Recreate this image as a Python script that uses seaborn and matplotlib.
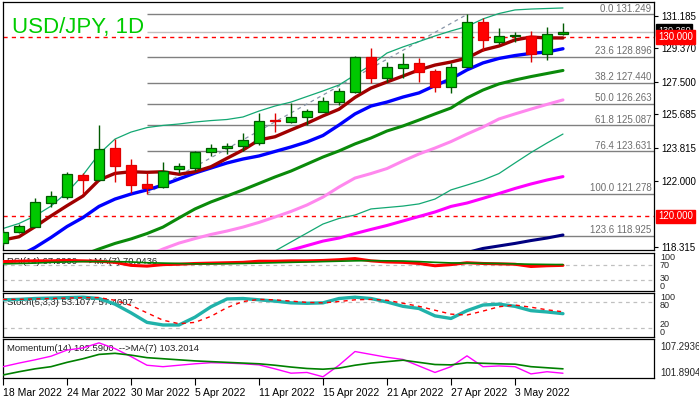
import matplotlib
matplotlib.use("Agg")
import numpy as np
import matplotlib.pyplot as plt
import matplotlib.transforms as mtransforms
import seaborn as sns

nan = np.nan

# ---- values (daily USD/JPY, 18 Mar - 6 May 2022) ----
tick_labels = ["18 Mar 2022", "24 Mar 2022", "30 Mar 2022", "5 Apr 2022", "11 Apr 2022",
               "15 Apr 2022", "21 Apr 2022", "27 Apr 2022", "3 May 2022"]

open_ = [118.54, 119.12, 119.43, 120.77, 121.10, 122.31, 122.01, 123.83, 122.87, 121.81,
         121.63, 122.63, 122.70, 123.57, 123.80, 123.92, 124.10, 125.36, 125.28, 125.56,
         125.83, 126.39, 126.95, 128.86, 127.69, 128.28, 128.53, 128.10, 127.19, 128.34,
         130.81, 129.70, 130.07, 130.07, 129.03, 130.14]
high = [119.25, 119.56, 121.01, 121.42, 122.46, 122.41, 125.09, 124.30, 123.18, 122.42,
        123.03, 123.00, 123.66, 124.03, 124.07, 124.63, 125.78, 125.74, 126.30, 125.98,
        126.64, 127.14, 128.93, 129.36, 128.62, 129.09, 128.84, 128.20, 128.53, 131.249,
        131.03, 130.48, 130.29, 130.33, 130.57, 130.76]
low = [118.40, 119.10, 119.40, 120.54, 120.96, 121.25, 121.98, 121.94, 121.29, 121.278,
       121.60, 122.40, 122.55, 123.39, 123.46, 123.64, 124.00, 124.72, 125.20, 125.09,
       125.80, 126.21, 126.90, 127.42, 127.50, 127.69, 127.47, 126.95, 126.89, 128.30,
       129.23, 129.59, 129.70, 128.58, 128.71, 130.12]
close = [119.15, 119.47, 120.79, 121.12, 122.37, 122.03, 123.74, 122.83, 121.75, 121.60,
         122.53, 122.81, 123.59, 123.81, 123.92, 124.26, 125.30, 125.33, 125.52, 125.87,
         126.43, 126.98, 128.86, 127.73, 128.31, 128.47, 128.06, 127.19, 128.34, 130.81,
         129.83, 130.07, 130.10, 129.03, 130.14, 130.26]

ma_fast = [118.69, 118.87, 119.43, 120.03, 120.60, 121.14, 122.03, 122.40, 122.49, 122.46,
           122.49, 122.35, 122.49, 122.77, 123.24, 123.70, 124.26, 124.44, 124.82, 125.19,
           125.60, 125.97, 126.63, 127.15, 127.49, 127.82, 128.16, 128.43, 128.60, 128.82,
           129.27, 129.49, 129.83, 129.99, 129.94, 129.94]
ma_mid = [117.47, 117.80, 118.27, 118.83, 119.44, 119.94, 120.56, 120.97, 121.25, 121.48,
          121.75, 122.09, 122.42, 122.70, 122.98, 123.20, 123.37, 123.62, 123.87, 124.15,
          124.51, 125.09, 125.71, 126.15, 126.37, 126.65, 126.88, 127.29, 127.66, 128.16,
          128.55, 128.80, 128.96, 129.08, 129.16, 129.34]
ma_20 = [nan, nan, nan, nan, nan, 117.86, 118.19, 118.50, 118.75, 119.05,
         119.41, 119.92, 120.42, 120.81, 121.14, 121.48, 121.84, 122.20, 122.53, 122.92,
         123.31, 123.65, 124.04, 124.37, 124.76, 125.04, 125.37, 125.71, 126.04, 126.60,
         127.04, 127.38, 127.60, 127.79, 127.96, 128.13]
ma_50 = [nan, nan, nan, nan, nan, nan, nan, nan, nan, 117.80,
         118.19, 118.52, 118.77, 119.00, 119.19, 119.41, 119.67, 119.97, 120.28, 120.64,
         121.08, 121.64, 122.14, 122.39, 122.67, 123.09, 123.48, 123.81, 124.17, 124.59,
         124.98, 125.43, 125.71, 125.98, 126.24, 126.49]
ma_100 = [nan] * 17 + [117.86, 118.13, 118.38, 118.63, 118.80, 119.05, 119.28, 119.50, 119.75,
                       120.00, 120.25, 120.56, 120.75, 121.01, 121.28, 121.56, 121.81, 122.03,
                       122.22]
ma_200 = [nan] * 28 + [117.80, 117.99, 118.22, 118.36, 118.50, 118.66, 118.80, 118.97]
bb_upper = [119.33, 119.61, 120.03, 120.58, 121.34, 122.31, 123.48, 124.31, 124.70, 124.95,
            125.07, 125.15, 125.26, 125.34, 125.40, 125.54, 125.87, 126.15, 126.37, 126.68,
            126.99, 127.32, 127.88, 128.43, 129.10, 129.44, 129.74, 130.05, 130.33, 130.58,
            131.00, 131.30, 131.50, 131.55, 131.58, 131.61]
bb_lower = [nan] * 16 + [117.74, 118.08, 118.58, 119.08, 119.58, 119.89, 120.08, 120.42,
                         120.50, 120.58, 120.70, 120.97, 121.48, 121.75, 122.03, 122.39,
                         122.98, 123.56, 124.09, 124.59]

fib_pct = [0.0, 23.6, 38.2, 50.0, 61.8, 76.4, 100.0, 123.6]
fib_price = [131.249, 128.896, 127.440, 126.263, 125.087, 123.631, 121.278, 118.925]
fib_from_bar, fib_to_bar = 9, 29
level_lines = [130.0, 120.0]
main_ticks = [131.185, 129.370, 127.500, 125.685, 123.815, 122.000, 118.315]

rsi = [78, 79, 80, 80, 81, 80, 79, 76, 68, 66, 70, 71, 73, 74, 75, 76, 79, 79, 80, 80,
       81, 83, 86, 80, 77, 76, 73, 67, 70, 75, 73, 72, 71, 65, 67, 67.99]
rsi_ma = [72, 73, 74, 76, 77, 78, 78, 78, 77, 75, 74, 73, 72, 72, 72.5, 73, 74, 75, 76, 77,
          78, 79, 80, 80.5, 80, 79.5, 78, 76, 74.5, 74, 73.5, 73, 72, 71, 70.5, 70.0436]
stoch_k = [85, 86, 88, 89, 90, 91, 88, 75, 55, 33, 27, 27, 45, 69, 87, 88, 85, 82, 78, 77,
           78, 88, 91, 88, 80, 70, 65, 48, 42, 60, 73, 75, 70, 60, 57, 53.1077]
stoch_d = [86, 86, 87, 88, 89, 90, 90, 84, 72, 55, 38, 30, 33, 47, 67, 81, 86, 85, 82, 79,
           78, 81, 85, 86, 84, 77, 70, 61, 52, 50, 59, 69, 73, 68, 62, 57.4007]
momentum = [103.50, 104.0, 104.45, 104.95, 105.8, 106.1, 106.8, 106.0, 104.9, 103.7,
            103.5, 103.7, 103.9, 104.05, 104.0, 103.9, 103.75, 103.2, 102.6, 102.7,
            102.1, 103.7, 105.6, 105.2, 104.8, 104.5, 103.6, 102.7, 103.5, 105.0,
            103.5, 103.6, 103.5, 102.5, 102.8, 102.59]
momentum_ma = [102.35, 102.8, 103.2, 103.5, 104.1, 104.6, 105.2, 105.35, 105.1, 104.75,
               104.6, 104.45, 104.3, 104.2, 104.1, 104.0, 103.9, 103.7, 103.45, 103.25,
               103.15, 103.3, 103.7, 104.0, 104.2, 104.4, 104.1, 103.8, 103.75, 104.05,
               103.97, 103.9, 103.85, 103.5, 103.35, 103.2014]
mom_range = (101.8904, 107.2936)

# ---- layout ----
sns.set_style("white")
plt.rcParams["font.family"] = ["Liberation Sans", "DejaVu Sans"]

W, H = 699, 398
fig = plt.figure(figsize=(W / 100, H / 100), dpi=100)


def px_axes(x0, y0, x1, y1):
    return fig.add_axes([x0 / W, 1 - y1 / H, (x1 - x0) / W, (y1 - y0) / H])


bars = np.arange(len(close))
xlim = (0, 40.69)

ax = px_axes(3, 2, 654, 250)
ax_rsi = px_axes(3, 253.3, 654, 291)
ax_sto = px_axes(3, 293.3, 654, 336.7)
ax_mom = px_axes(3, 339.3, 654, 378.3)
panels = [ax, ax_rsi, ax_sto, ax_mom]

for a in panels:
    a.set_xlim(*xlim)
    a.set_facecolor("white")
    for s in a.spines.values():
        s.set_color("black")
        s.set_linewidth(0.9)
    a.tick_params(axis="x", bottom=False, labelbottom=False)
    a.tick_params(axis="y", left=False, labelleft=False)
    a.set_xlabel("")
    a.set_ylabel("")

# ---- main price panel ----
ax.set_ylim(118.134, 131.942)


def line(a, y, color, lw, z=5, **kw):
    sns.lineplot(x=bars, y=np.asarray(y, dtype=float), ax=a, color=color, linewidth=lw,
                 legend=False, zorder=z, **kw)


line(ax, bb_upper, "#13a873", 0.9, z=2)
line(ax, bb_lower, "#13a873", 0.9, z=2)
line(ax, ma_200, "#000080", 2.2)
line(ax, ma_100, "#ff00ff", 2.2)
line(ax, ma_50, "#ff88ee", 2.2)
line(ax, ma_20, "#0a8a0a", 2.2)
line(ax, ma_mid, "#0000ff", 2.4)
line(ax, ma_fast, "#a00000", 2.4)

# fibonacci retracement
ax.hlines(fib_price, fib_from_bar, xlim[1], color="#808080", linewidth=1, zorder=1)
ax.hlines([close[-1]], fib_from_bar, xlim[1], color="#c0c0c0", linewidth=1, zorder=1)
sns.lineplot(x=[fib_from_bar, fib_to_bar], y=[fib_price[-2], fib_price[0]], ax=ax,
             color="#8896a8", linewidth=0.9, linestyle=(0, (3, 3)), legend=False, zorder=1)
tr = mtransforms.blended_transform_factory(ax.transAxes, ax.transData)
for p, v in zip(fib_pct, fib_price):
    ax.text(0.996, v + 0.03, f"{p:.1f} {v:.3f}", transform=tr, ha="right", va="bottom",
            fontsize=7, color="#6e6e6e", zorder=1)

for lv in level_lines:
    ax.axhline(lv, color="#ff0000", linewidth=1, linestyle=(0, (3, 3)), zorder=1)

# candles
o, h, l, c = (np.asarray(v, dtype=float) for v in (open_, high, low, close))
up = c >= o
for mask, face, edge in ((up, "#00c800", "#005a00"), (~up, "#ff0000", "#e00000")):
    idx = bars[mask]
    ax.vlines(idx, l[mask], h[mask], color=edge, linewidth=1, zorder=6)
    body = np.maximum(np.abs(c[mask] - o[mask]), 0.03)
    ax.bar(idx, body, bottom=np.minimum(o[mask], c[mask]), width=0.66, color=face,
           edgecolor=edge, linewidth=0.9, zorder=7)

ax.yaxis.tick_right()
ax.set_yticks(main_ticks)
ax.set_yticklabels([f"{t:.3f}" for t in main_ticks])
ax.tick_params(axis="y", right=True, labelright=True, length=3, width=0.8, pad=2,
               labelsize=7, colors="black")

# current price tag, mostly covered by the 130.000 level tag
ax.text(1.006, close[-1] + 0.12, f"{close[-1]:.3f}", transform=tr, ha="left", va="center",
        fontsize=6.5, color="white", zorder=10, clip_on=False,
        bbox=dict(boxstyle="square,pad=0.2", fc="black", ec="black"))
for lv in level_lines:
    ax.text(1.006, lv, f"{lv:.3f}", transform=tr, ha="left", va="center", fontsize=7,
            color="white", zorder=11, clip_on=False,
            bbox=dict(boxstyle="square,pad=0.2", fc="#ff0000", ec="#ff0000"))

fig.text(12 / W, 1 - 33 / H, "USD/JPY, 1D", color="#00cc00", fontsize=16, va="baseline")

# ---- RSI ----
ax_rsi.set_ylim(0, 100)
for lv in (70, 30):
    ax_rsi.axhline(lv, color="#c0c0c0", linewidth=0.9, linestyle=(0, (3, 3)), zorder=1)
line(ax_rsi, rsi, "#ff0000", 2.2, z=3)
line(ax_rsi, rsi_ma, "#008000", 1.2, z=4)
ax_rsi.text(0.006, 0.78, f"RSI(14) {rsi[-1]:.4f}  -->MA(7) {rsi_ma[-1]:.4f}",
            transform=ax_rsi.transAxes, fontsize=6.8, color="#202020", va="center", zorder=2)
tr_r = mtransforms.blended_transform_factory(ax_rsi.transAxes, ax_rsi.transData)
for txt, yv in (("100", 88), ("70", 67), ("30", 33), ("0", 13)):
    ax_rsi.text(1.009, yv, txt, transform=tr_r, fontsize=6.5, va="center", clip_on=False)

# ---- Stochastic ----
ax_sto.set_ylim(0, 100)
for lv in (80, 20):
    ax_sto.axhline(lv, color="#c0c0c0", linewidth=0.9, linestyle=(0, (3, 3)), zorder=1)
line(ax_sto, stoch_k, "#20b2aa", 2.4, z=3)
line(ax_sto, stoch_d, "#ff0000", 1.0, z=4, linestyle=(0, (3, 3)))
ax_sto.text(0.006, 0.79, f"Stoch(5,3,3) {stoch_k[-1]:.4f} {stoch_d[-1]:.4f}",
            transform=ax_sto.transAxes, fontsize=6.8, color="#202020", va="center", zorder=2)
tr_s = mtransforms.blended_transform_factory(ax_sto.transAxes, ax_sto.transData)
for txt, yv in (("100", 90), ("80", 72), ("20", 27), ("0", 9)):
    ax_sto.text(1.009, yv, txt, transform=tr_s, fontsize=6.5, va="center", clip_on=False)

# ---- Momentum ----
ax_mom.set_ylim(*mom_range)
line(ax_mom, momentum, "#ff00ff", 1.0, z=3)
line(ax_mom, momentum_ma, "#008000", 1.2, z=4)
ax_mom.text(0.006, 0.76,
            f"Momentum(14) {momentum[-1]:.4f}  -->MA(7) {momentum_ma[-1]:.4f}",
            transform=ax_mom.transAxes, fontsize=6.8, color="#202020", va="center", zorder=2)
tr_m = mtransforms.blended_transform_factory(ax_mom.transAxes, ax_mom.transData)
span = mom_range[1] - mom_range[0]
for frac, v in ((0.81, mom_range[1]), (0.13, mom_range[0])):
    ax_mom.text(1.009, mom_range[0] + frac * span, f"{v:.4f}", transform=tr_m, fontsize=7,
                va="center", clip_on=False)

tick_pos = bars[::4][:len(tick_labels)]
ax_mom.set_xticks(tick_pos)
ax_mom.set_xticklabels(tick_labels, ha="left", fontsize=7.5)
ax_mom.tick_params(axis="x", bottom=True, labelbottom=True, length=5, width=0.8, pad=2,
                   direction="out", colors="black")

fig.savefig("out.png", dpi=100)
